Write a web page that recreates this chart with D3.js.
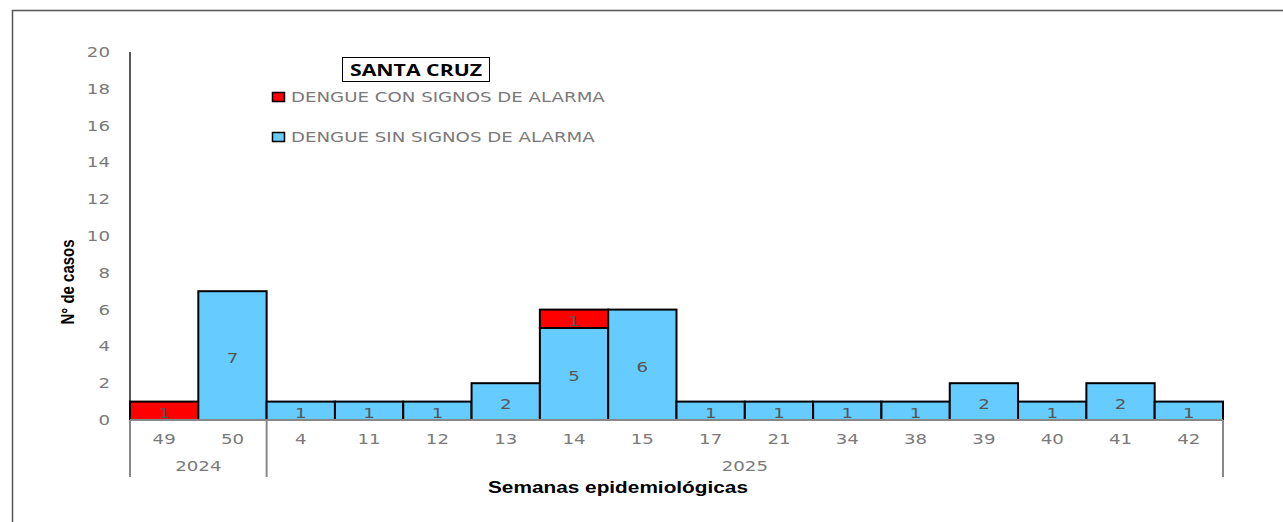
<!DOCTYPE html>
<html>
<head>
  <meta charset="utf-8">
  <title>Santa Cruz - Dengue</title>
  <script src="https://d3js.org/d3.v7.min.js"></script>
  <style>
    body { margin: 0; background: #fff; }
    svg { display: block; }
  </style>
</head>
<body>
  <svg width="1283" height="522"></svg>
  <script>
    // datos del grafico
    var semanas = ["49", "50", "4", "11", "12", "13", "14", "15", "17", "21", "34", "38", "39", "40", "41", "42"];
    var anios = ["2024", "2024", "2025", "2025", "2025", "2025", "2025", "2025", "2025", "2025", "2025", "2025", "2025", "2025", "2025", "2025"];
    var sinAlarma = [0, 7, 1, 1, 1, 2, 5, 6, 1, 1, 1, 1, 2, 1, 2, 1];
    var conAlarma = [1, 0, 0, 0, 0, 0, 1, 0, 0, 0, 0, 0, 0, 0, 0, 0];
    var yTicks = [0, 2, 4, 6, 8, 10, 12, 14, 16, 18, 20];
    var series = [
      { name: "DENGUE SIN SIGNOS DE ALARMA", values: sinAlarma, color: "#66CCFF" },
      { name: "DENGUE CON SIGNOS DE ALARMA", values: conAlarma, color: "#FF0000" }
    ];

    var svg = d3.select("svg");
    var tickFont = "DejaVu Sans, Verdana, sans-serif";
    var gris = "#7a7a7a";
    var SX = 1.3; // el original esta estirado a lo ancho

    // coloca un texto con estiramiento horizontal
    function pos(px, py, sx) {
      return "translate(" + px + "," + py + ") scale(" + (sx || SX) + ",1)";
    }

    // marco exterior
    svg.append("rect")
      .attr("x", 12.5).attr("y", 10.5)
      .attr("width", 1300).attr("height", 600)
      .attr("fill", "none").attr("stroke", "#555").attr("stroke-width", 1.5);

    var pLeft = 130, pRight = 1223, pTop = 52, pBottom = 420;
    var x = d3.scaleBand().domain(d3.range(semanas.length)).range([pLeft, pRight]).padding(0);
    var y = d3.scaleLinear().domain([0, 20]).range([pBottom, pTop]);

    // eje y
    svg.append("line")
      .attr("x1", pLeft).attr("x2", pLeft).attr("y1", pTop).attr("y2", pBottom)
      .attr("stroke", "#000").attr("stroke-width", 1.3);

    svg.selectAll(".ytick")
      .data(yTicks)
      .enter()
      .append("text")
      .attr("class", "ytick")
      .attr("transform", function (d) { return pos(110, y(d)); })
      .attr("dy", "0.35em")
      .attr("text-anchor", "end")
      .attr("font-family", tickFont)
      .attr("font-size", 14)
      .attr("fill", gris)
      .text(function (d) { return d; });

    // barras apiladas
    var stacked = semanas.map(function (s, i) {
      var base = 0;
      return series.map(function (ser) {
        var v = ser.values[i];
        var seg = { i: i, y0: base, y1: base + v, v: v, color: ser.color };
        base += v;
        return seg;
      }).filter(function (seg) { return seg.v > 0; });
    });
    var segs = [].concat.apply([], stacked);

    svg.selectAll(".bar")
      .data(segs)
      .enter()
      .append("rect")
      .attr("class", "bar")
      .attr("x", function (d) { return x(d.i); })
      .attr("width", x.bandwidth())
      .attr("y", function (d) { return y(d.y1); })
      .attr("height", function (d) { return y(d.y0) - y(d.y1); })
      .attr("fill", function (d) { return d.color; })
      .attr("stroke", "#000")
      .attr("stroke-width", 2);

    svg.selectAll(".blabel")
      .data(segs)
      .enter()
      .append("text")
      .attr("class", "blabel")
      .attr("transform", function (d) {
        return pos(x(d.i) + x.bandwidth() / 2, (y(d.y0) + y(d.y1)) / 2 + 2);
      })
      .attr("dy", "0.35em")
      .attr("text-anchor", "middle")
      .attr("font-family", tickFont)
      .attr("font-size", 14)
      .attr("fill", "#555")
      .text(function (d) { return d.v; });

    // linea base
    svg.append("line")
      .attr("x1", pLeft).attr("x2", pRight).attr("y1", pBottom).attr("y2", pBottom)
      .attr("stroke", "#888").attr("stroke-width", 2);

    // etiquetas de semana
    svg.selectAll(".xtick")
      .data(semanas)
      .enter()
      .append("text")
      .attr("class", "xtick")
      .attr("transform", function (d, i) { return pos(x(i) + x.bandwidth() / 2, 439); })
      .attr("dy", "0.35em")
      .attr("text-anchor", "middle")
      .attr("font-family", tickFont)
      .attr("font-size", 14)
      .attr("fill", gris)
      .text(function (d) { return d; });

    // grupos por anio
    var grupos = [];
    anios.forEach(function (a, i) {
      var last = grupos[grupos.length - 1];
      if (last && last.anio === a) last.fin = i;
      else grupos.push({ anio: a, ini: i, fin: i });
    });
    var seps = [pLeft].concat(grupos.map(function (g) { return x(g.fin) + x.bandwidth(); }));
    svg.selectAll(".sep")
      .data(seps)
      .enter()
      .append("line")
      .attr("x1", function (d) { return d; })
      .attr("x2", function (d) { return d; })
      .attr("y1", pBottom).attr("y2", 477)
      .attr("stroke", "#888").attr("stroke-width", 2);

    svg.selectAll(".anio")
      .data(grupos)
      .enter()
      .append("text")
      .attr("transform", function (g) { return pos((x(g.ini) + x(g.fin) + x.bandwidth()) / 2, 466); })
      .attr("dy", "0.35em")
      .attr("text-anchor", "middle")
      .attr("font-family", tickFont)
      .attr("font-size", 14)
      .attr("fill", gris)
      .text(function (g) { return g.anio; });

    // titulos de ejes
    svg.append("text")
      .attr("transform", pos(618, 487))
      .attr("dy", "0.35em")
      .attr("text-anchor", "middle")
      .attr("font-family", "Liberation Sans, Arial, sans-serif")
      .attr("font-weight", "bold")
      .attr("font-size", 16)
      .text("Semanas epidemiológicas");

    svg.append("text")
      .attr("transform", "translate(67,282) rotate(-90) scale(1,1.25)")
      .attr("dy", "0.35em")
      .attr("text-anchor", "middle")
      .attr("font-family", "Liberation Sans, Arial, sans-serif")
      .attr("font-weight", "bold")
      .attr("font-size", 15)
      .text("N° de casos");

    // titulo
    svg.append("rect")
      .attr("x", 342.5).attr("y", 57.5).attr("width", 147).attr("height", 24)
      .attr("fill", "#fff").attr("stroke", "#000").attr("stroke-width", 1);
    svg.append("text")
      .attr("transform", pos(416, 70, 1.33))
      .attr("dy", "0.35em")
      .attr("text-anchor", "middle")
      .attr("font-family", "Open Sans, DejaVu Sans, sans-serif")
      .attr("font-weight", "bold")
      .attr("font-size", 16)
      .text("SANTA CRUZ");

    // leyenda
    var leyenda = [series[1], series[0]];
    var lg = svg.selectAll(".leg")
      .data(leyenda)
      .enter()
      .append("g")
      .attr("transform", function (d, i) { return "translate(272," + (97 + i * 40) + ")"; });
    lg.append("rect")
      .attr("x", 0.5).attr("y", -4.5).attr("width", 12).attr("height", 9)
      .attr("fill", function (d) { return d.color; })
      .attr("stroke", "#000").attr("stroke-width", 1.5);
    lg.append("text")
      .attr("transform", pos(19, 0))
      .attr("dy", "0.35em")
      .attr("font-family", tickFont)
      .attr("font-size", 14)
      .attr("fill", gris)
      .text(function (d) { return d.name; });
  </script>
</body>
</html>
